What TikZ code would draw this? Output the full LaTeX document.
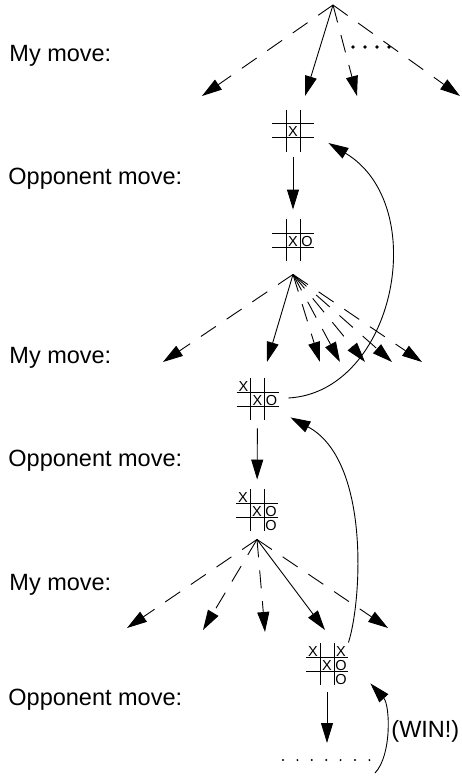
\documentclass[tikz,border=0pt]{standalone}
\usepackage{fontspec}
\setmainfont{Liberation Sans}
\usetikzlibrary{arrows.meta,calc}

% one noughts-and-crosses position: name, centre, marks col/row/symbol
\newcommand\tttboard[3]{%
  \begin{scope}[shift={(#2)}]
    \node[board] (#1) at (0,0) {};
    \draw (-7,-21) -- (-7,21) (7,-21) -- (7,21) (-21,-7) -- (21,-7) (-21,7) -- (21,7);
    \foreach \col/\row/\sym in {#3}
      \node[cellmark] at (\col*14,\row*14+1.5) {\sym};
  \end{scope}}

\begin{document}
\begin{tikzpicture}[x=1bp,y=-1bp,line width=0.9bp,
  move/.style={-{Triangle[length=20bp,width=12bp]}},
  guess/.style={move,dash pattern=on 18bp off 13bp},
  rowtext/.style={anchor=base west,inner sep=0pt,font=\fontsize{23.5bp}{28bp}\selectfont},
  cellmark/.style={inner sep=0pt,font=\fontsize{14.5bp}{16bp}\selectfont},
  board/.style={minimum size=42bp,inner sep=0pt}]
\path[use as bounding box] (0,0) rectangle (462,776);

% row labels
\node[rowtext] (my1) at (9,62) {My move:};
\node[rowtext] (opp1) at (8,184) {Opponent move:};
\node[rowtext] (my2) at (9,363) {My move:};
\node[rowtext] (opp2) at (8,466) {Opponent move:};
\node[rowtext] (my3) at (9,590) {My move:};
\node[rowtext] (opp3) at (8,705) {Opponent move:};

% first move
\coordinate (top) at (333,5);
\foreach \n/\x/\s in {1/202/guess,2/305/move,3/357/guess,4/460/guess}{
  \coordinate (f1t\n) at (\x,96);
  \draw[\s] (top) -- (f1t\n);}
\foreach \x in {353,365,377,389} \fill (\x,47) circle (1.9bp);

\tttboard{b1}{293,130.5}{0/0/X}
\tttboard{b2}{293,240}{0/0/X,1/0/O}
\draw[move,shorten <=5.5bp,shorten >=9bp] (b1) -- (b2);

% second move
\coordinate (f2) at ($(b2.south)+(0,13)$);
\foreach \n/\x/\s in {1/163/guess,2/267/move,3/320/guess,4/340/guess,5/365/guess,6/392/guess,7/422/guess}{
  \coordinate (f2t\n) at (\x,362);
  \draw[\s] (f2) -- (f2t\n);}

\tttboard{b3}{257.5,399}{-1/-1/X,0/0/X,1/0/O}
\draw[move] ($(b3.east)+(9.5,-1)$) .. controls (395,392) and (432,205) .. ($(b1.east)+(14,12.5)$);

\tttboard{b4}{257,510}{-1/-1/X,0/0/X,1/0/O,1/1/O}
\draw[move,shorten <=8bp,shorten >=9bp] (b3) -- (b4);

% third move
\coordinate (f3) at ($(b4.south)+(0,8)$);
\foreach \n/\x/\y/\s in {1/127/628/guess,2/203/630/guess,3/265/632/guess,4/325/630/move,5/388/628/guess}{
  \coordinate (f3t\n) at (\x,\y);
  \draw[\s] (f3) -- (f3t\n);}

\tttboard{b5}{327,664}{-1/-1/X,1/-1/X,0/0/X,1/0/O,1/1/O}
\draw[move] (b5.north east) .. controls (362,600) and (370,460) .. ($(b3.south east)+(11.5,-3)$);

% last reply
\coordinate (end) at (327,743);
\draw[move,shorten <=7bp] (b5) -- (end);
\foreach \i in {0,...,6} \fill (283+14.4*\i,760) circle (1.1bp);
\coordinate (win) at (375,773);
\draw[move] (win) .. controls (392,755) and (390,705) .. ($(b5.south east)+(22,-2)$);
\node[rowtext] (wintext) at (391,737) {(WIN!)};
\end{tikzpicture}
\end{document}
